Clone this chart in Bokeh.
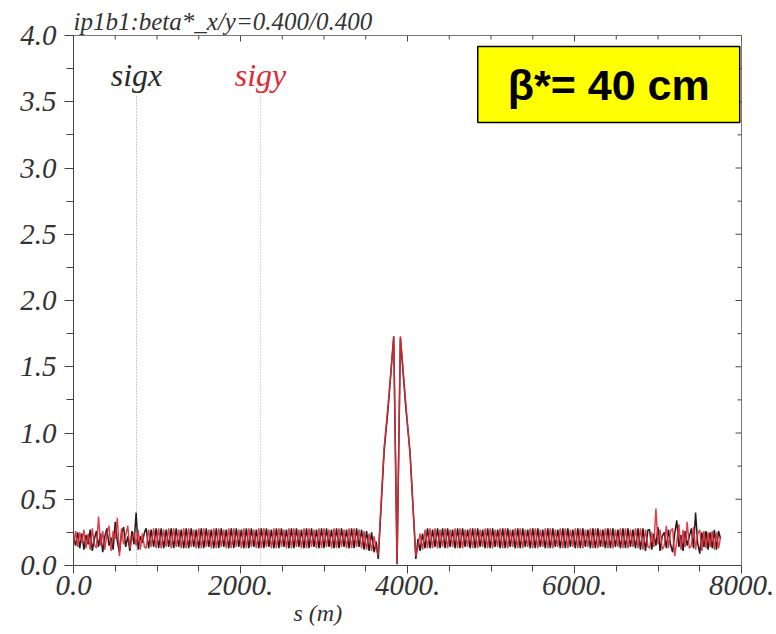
from bokeh.plotting import figure
from bokeh.models import FixedTicker, Label, Range1d, Title
from bokeh.embed import file_html
from bokeh.resources import INLINE

# ---------------- data ----------------
title_text = "ip1b1:beta*_x/y=0.400/0.400"
x_label = "s (m)"
x_ticks = [0, 2000, 4000, 6000, 8000]
x_tick_labels = ["0.0", "2000.", "4000.", "6000.", "8000."]
x_minor = [500, 1000, 1500, 2500, 3000, 3500, 4500, 5000, 5500, 6500, 7000, 7500]
y_ticks = [0.0, 0.5, 1.0, 1.5, 2.0, 2.5, 3.0, 3.5, 4.0]
y_tick_labels = ["0.0", "0.5", "1.0", "1.5", "2.0", "2.5", "3.0", "3.5", "4.0"]
y_minor = [0.25, 0.75, 1.25, 1.75, 2.25, 2.75, 3.25, 3.75]

# left insertion region (irregular)
s_left = list(range(0, 851, 25))
sigx_left = [0.22, 0.15, 0.25, 0.13, 0.24, 0.12, 0.23, 0.16, 0.27, 0.11,
             0.20, 0.26, 0.14, 0.24, 0.10, 0.22, 0.28, 0.15, 0.21, 0.12,
             0.33, 0.18, 0.10, 0.24, 0.29, 0.14, 0.22, 0.11, 0.26, 0.16,
             0.40, 0.12, 0.22, 0.17, 0.25]
sigy_left = [0.16, 0.26, 0.14, 0.25, 0.17, 0.27, 0.13, 0.24, 0.12, 0.28,
             0.16, 0.13, 0.37, 0.15, 0.26, 0.12, 0.24, 0.30, 0.11, 0.26,
             0.20, 0.36, 0.07, 0.28, 0.16, 0.23, 0.30, 0.13, 0.20, 0.25,
             0.15, 0.27, 0.12, 0.24, 0.14]

# first arc
s_arc1 = list(range(870, 3601, 30))
sigx_arc1 = [0.28, 0.13, 0.27, 0.14, 0.28, 0.13, 0.28, 0.13, 0.27, 0.14,
             0.28, 0.13, 0.28, 0.14, 0.27, 0.13, 0.28, 0.13, 0.28, 0.14,
             0.27, 0.13, 0.28, 0.13, 0.28, 0.14, 0.27, 0.13, 0.28, 0.13,
             0.28, 0.14, 0.27, 0.13, 0.28, 0.13, 0.28, 0.14, 0.27, 0.13,
             0.28, 0.13, 0.28, 0.14, 0.27, 0.13, 0.28, 0.13, 0.28, 0.14,
             0.27, 0.13, 0.28, 0.13, 0.28, 0.14, 0.27, 0.13, 0.28, 0.13,
             0.28, 0.14, 0.27, 0.13, 0.28, 0.13, 0.28, 0.14, 0.27, 0.13,
             0.28, 0.13, 0.28, 0.14, 0.27, 0.13, 0.28, 0.13, 0.28, 0.14,
             0.27, 0.13, 0.28, 0.13, 0.28, 0.14, 0.27, 0.12, 0.26, 0.11,
             0.25, 0.10]
sigy_arc1 = [0.13, 0.27, 0.14, 0.28, 0.13, 0.28, 0.13, 0.27, 0.14, 0.28,
             0.13, 0.28, 0.14, 0.27, 0.13, 0.28, 0.13, 0.28, 0.14, 0.27,
             0.13, 0.28, 0.13, 0.28, 0.14, 0.27, 0.13, 0.28, 0.13, 0.28,
             0.14, 0.27, 0.13, 0.28, 0.13, 0.28, 0.14, 0.27, 0.13, 0.28,
             0.13, 0.28, 0.14, 0.27, 0.13, 0.28, 0.13, 0.28, 0.14, 0.27,
             0.13, 0.28, 0.13, 0.28, 0.14, 0.27, 0.13, 0.28, 0.13, 0.28,
             0.14, 0.27, 0.13, 0.28, 0.13, 0.28, 0.14, 0.27, 0.13, 0.28,
             0.13, 0.28, 0.14, 0.27, 0.13, 0.28, 0.13, 0.28, 0.14, 0.27,
             0.13, 0.28, 0.13, 0.28, 0.14, 0.27, 0.13, 0.26, 0.12, 0.24,
             0.11, 0.22]

# interaction region around IP1
s_ir = [3625, 3650, 3720, 3770, 3835, 3875, 3915, 3980, 4030, 4100, 4125]
sigx_ir = [0.18, 0.05, 0.86, 1.20, 1.73, 0.01, 1.72, 1.19, 0.86, 0.05, 0.20]
sigy_ir = [0.12, 0.08, 0.89, 1.23, 1.72, 0.02, 1.73, 1.22, 0.84, 0.07, 0.14]

# second arc
s_arc2 = list(range(4150, 6881, 30))
sigx_arc2 = [0.11, 0.24, 0.13, 0.28, 0.13, 0.27, 0.14, 0.28, 0.13, 0.28,
             0.13, 0.28, 0.14, 0.27, 0.13, 0.28, 0.13, 0.28, 0.14, 0.27,
             0.13, 0.28, 0.13, 0.28, 0.14, 0.27, 0.13, 0.28, 0.13, 0.28,
             0.14, 0.27, 0.13, 0.28, 0.13, 0.28, 0.14, 0.27, 0.13, 0.28,
             0.13, 0.28, 0.14, 0.27, 0.13, 0.28, 0.13, 0.28, 0.14, 0.27,
             0.13, 0.28, 0.13, 0.28, 0.14, 0.27, 0.13, 0.28, 0.13, 0.28,
             0.14, 0.27, 0.13, 0.28, 0.13, 0.28, 0.14, 0.27, 0.13, 0.28,
             0.13, 0.28, 0.14, 0.27, 0.13, 0.28, 0.13, 0.28, 0.14, 0.27,
             0.13, 0.28, 0.13, 0.28, 0.14, 0.27, 0.13, 0.28, 0.12, 0.28,
             0.11, 0.27]
sigy_arc2 = [0.24, 0.12, 0.27, 0.13, 0.28, 0.13, 0.28, 0.13, 0.27, 0.14,
             0.28, 0.13, 0.27, 0.14, 0.28, 0.13, 0.28, 0.13, 0.27, 0.14,
             0.28, 0.13, 0.28, 0.13, 0.27, 0.14, 0.28, 0.13, 0.28, 0.13,
             0.27, 0.14, 0.28, 0.13, 0.28, 0.13, 0.27, 0.14, 0.28, 0.13,
             0.28, 0.13, 0.27, 0.14, 0.28, 0.13, 0.28, 0.13, 0.27, 0.14,
             0.28, 0.13, 0.28, 0.13, 0.27, 0.14, 0.28, 0.13, 0.28, 0.13,
             0.27, 0.14, 0.28, 0.13, 0.28, 0.13, 0.27, 0.14, 0.28, 0.13,
             0.28, 0.13, 0.27, 0.14, 0.28, 0.13, 0.28, 0.13, 0.27, 0.14,
             0.28, 0.13, 0.28, 0.13, 0.27, 0.14, 0.28, 0.13, 0.28, 0.12,
             0.27, 0.14]

# right insertion region (irregular)
s_right = list(range(6900, 7751, 25))
sigx_right = [0.27, 0.12, 0.24, 0.15, 0.29, 0.11, 0.22, 0.25, 0.13, 0.27,
              0.16, 0.10, 0.24, 0.34, 0.14, 0.23, 0.11, 0.26, 0.15, 0.22,
              0.28, 0.13, 0.40, 0.17, 0.09, 0.25, 0.14, 0.26, 0.12, 0.25,
              0.13, 0.27, 0.12, 0.26, 0.20]
sigy_right = [0.13, 0.25, 0.14, 0.43, 0.16, 0.27, 0.12, 0.15, 0.30, 0.13,
              0.26, 0.28, 0.07, 0.18, 0.31, 0.12, 0.27, 0.14, 0.33, 0.13,
              0.15, 0.29, 0.12, 0.24, 0.27, 0.11, 0.26, 0.13, 0.25, 0.14,
              0.26, 0.12, 0.25, 0.13, 0.22]

legend_names = ["sigx", "sigy"]
legend_s = [755, 2240]
box_text = "β*= 40 cm"

s_all = s_left + s_arc1 + s_ir + s_arc2 + s_right
sigx_all = sigx_left + sigx_arc1 + sigx_ir + sigx_arc2 + sigx_right
sigy_all = sigy_left + sigy_arc1 + sigy_ir + sigy_arc2 + sigy_right

# ---------------- figure ----------------
BLACK = "#1e1e1e"
RED = "#e02a36"
AX = "#444444"
SERIF = "Liberation Serif"
X_MAX, Y_MAX = 8000, 4.0
FRAME_W, FRAME_H = 668, 530

p = figure(width=776, height=634, output_backend="svg", toolbar_location=None,
           x_range=Range1d(0, X_MAX), y_range=Range1d(0, Y_MAX),
           min_border_left=73, min_border_right=35, min_border_top=35,
           min_border_bottom=69)
p.background_fill_color = "white"
p.border_fill_color = "white"
p.outline_line_color = "#777777"
p.grid.visible = False

p.title.text = title_text
p.title.text_font = SERIF
p.title.text_font_style = "italic"
p.title.text_font_size = "25px"
p.title.text_color = "#333333"
p.title.align = "left"
p.title.offset = 0
p.title.standoff = 2

xt = FixedTicker(ticks=x_ticks, minor_ticks=x_minor)
yt = FixedTicker(ticks=y_ticks, minor_ticks=y_minor)

for ax in p.xaxis:
    ax.ticker = xt
    ax.major_label_overrides = dict(zip(x_ticks, x_tick_labels))
    ax.major_label_standoff = 2
    ax.major_tick_out = 8
    ax.major_tick_in = 0
    ax.minor_tick_out = 6
    ax.minor_tick_in = 0

for ax in p.yaxis:
    ax.ticker = yt
    ax.major_label_overrides = dict(zip(y_ticks, y_tick_labels))
    ax.major_label_standoff = 8
    ax.major_tick_out = 9
    ax.major_tick_in = 0
    ax.minor_tick_out = 7
    ax.minor_tick_in = 0

for ax in list(p.xaxis) + list(p.yaxis):
    ax.major_label_text_font = SERIF
    ax.major_label_text_font_style = "italic"
    ax.major_label_text_font_size = "29px"
    ax.major_label_text_color = "#333333"
    ax.axis_line_color = AX
    ax.major_tick_line_color = AX
    ax.minor_tick_line_color = AX

# x axis label placed left of centre, as in the reference
p.add_layout(Title(text=x_label, align="left", offset=220, text_font=SERIF,
                   text_font_style="italic", text_font_size="24px",
                   text_color="#333333", standoff=0), "below")

# inward ticks on the top and right frame edges
dx_major = 6 * X_MAX / FRAME_W
dx_minor = 4 * X_MAX / FRAME_W
dy_major = 6 * Y_MAX / FRAME_H
dy_minor = 4 * Y_MAX / FRAME_H
p.segment(x0=x_ticks, y0=[Y_MAX] * len(x_ticks), x1=x_ticks,
          y1=[Y_MAX - dy_major] * len(x_ticks), line_color=AX, line_width=1)
p.segment(x0=x_minor, y0=[Y_MAX] * len(x_minor), x1=x_minor,
          y1=[Y_MAX - dy_minor] * len(x_minor), line_color=AX, line_width=1)
p.segment(x0=[X_MAX] * len(y_ticks), y0=y_ticks, x1=[X_MAX - dx_major] * len(y_ticks),
          y1=y_ticks, line_color=AX, line_width=1)
p.segment(x0=[X_MAX] * len(y_minor), y0=y_minor, x1=[X_MAX - dx_minor] * len(y_minor),
          y1=y_minor, line_color=AX, line_width=1)

# marker lines under the legend names
p.line([legend_s[0], legend_s[0]], [0, 3.55], line_color="#666666", line_dash="1 2",
       line_width=1, line_alpha=0.7)
p.line([legend_s[1], legend_s[1]], [0, 3.55], line_color="#f07080", line_dash="1 2",
       line_width=1, line_alpha=0.7)

p.line(s_all, sigx_all, line_color=BLACK, line_width=1.5)
p.line(s_all, sigy_all, line_color=RED, line_width=1.5, line_alpha=0.9)

for name, s_pos, col in zip(legend_names, legend_s, [BLACK, RED]):
    p.add_layout(Label(x=s_pos, y=3.70, text=name, text_align="center",
                       text_baseline="alphabetic", text_font=SERIF,
                       text_font_style="italic", text_font_size="32px",
                       text_color="#2a2a2a" if col == BLACK else col))

p.add_layout(Label(x=6410, y=3.63, text=box_text, text_align="center",
                   text_baseline="middle", text_font="Liberation Sans",
                   text_font_style="bold", text_font_size="43px", text_color="black",
                   background_fill_color="#ffff00", border_line_color="black",
                   border_line_width=1.5, padding={"x": 30, "y": 14}))

open("out.html", "w").write(file_html(p, INLINE))
